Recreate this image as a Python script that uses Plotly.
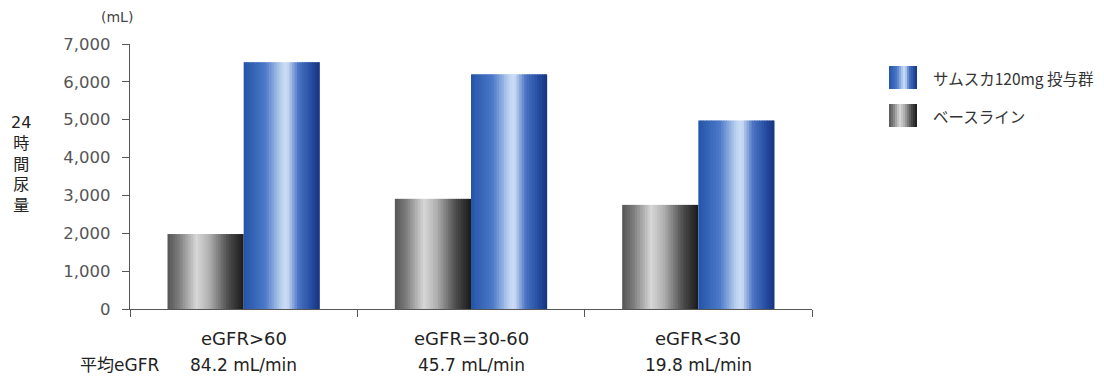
import plotly.graph_objects as go

# ---- data -------------------------------------------------------------
categories = ["eGFR>60", "eGFR=30-60", "eGFR<30"]
mean_egfr = ["84.2 mL/min", "45.7 mL/min", "19.8 mL/min"]
baseline = [1980, 2910, 2750]          # ベースライン
samsca_120 = [6520, 6200, 4980]        # サムスカ120mg 投与群
series_names = ["ベースライン", "サムスカ120mg 投与群"]
y_ticks = [0, 1000, 2000, 3000, 4000, 5000, 6000, 7000]

# ---- styling ----------------------------------------------------------
LATIN = "DejaVu Sans, Noto Sans CJK JP, sans-serif"
CJK = "Noto Sans CJK JP, sans-serif"
TEXT = "#333333"
AXIS = "#555555"

# horizontal colour profiles used to give the bars a cylinder-like shading
GRAY_STOPS = [(0.0, (85, 85, 85)), (0.15, (125, 125, 125)), (0.38, (215, 215, 215)),
              (0.55, (175, 175, 175)), (0.8, (75, 75, 75)), (1.0, (25, 25, 25))]
BLUE_STOPS = [(0.0, (36, 84, 168)), (0.28, (75, 120, 200)), (0.5, (190, 212, 240)),
              (0.57, (205, 222, 245)), (0.72, (75, 115, 195)), (0.88, (38, 78, 162)),
              (1.0, (22, 50, 125))]


def shade(stops, t):
    for (p0, c0), (p1, c1) in zip(stops, stops[1:]):
        if p0 <= t <= p1:
            f = (t - p0) / (p1 - p0) if p1 > p0 else 0
            c = [round(a + (b - a) * f) for a, b in zip(c0, c1)]
            return f"rgb({c[0]},{c[1]},{c[2]})"
    c = stops[-1][1]
    return f"rgb({c[0]},{c[1]},{c[2]})"


N_STRIPS = 30
BAR_W = 0.335   # width of one bar in category units

fig = go.Figure()


def add_shaded_bar(values, stops, start, name):
    step = BAR_W / N_STRIPS
    for i in range(N_STRIPS):
        t = (i + 0.5) / N_STRIPS
        fig.add_trace(go.Bar(
            x=categories, y=values,
            width=step * 1.3 if i < N_STRIPS - 1 else step,
            offset=start + i * step,
            marker=dict(color=shade(stops, t), line=dict(width=0)),
            name=name, showlegend=False, hoverinfo="skip",
        ))


add_shaded_bar(baseline, GRAY_STOPS, -BAR_W, series_names[0])
add_shaded_bar(samsca_120, BLUE_STOPS, 0.0, series_names[1])

# ---- legend drawn as shaded swatches + labels -------------------------
shapes = []
annotations = []
legend_items = [(series_names[1], BLUE_STOPS, 243), (series_names[0], GRAY_STOPS, 205)]
SW_X0, SW_W, SW_H, SW_N = 759, 28, 23, 14
for label, stops, top in legend_items:
    for i in range(SW_N):
        t = (i + 0.5) / SW_N
        shapes.append(dict(
            type="rect", xref="paper", yref="paper",
            xsizemode="pixel", ysizemode="pixel", xanchor=0, yanchor=0,
            x0=SW_X0 + i * SW_W / SW_N, x1=SW_X0 + (i + 1.3) * SW_W / SW_N if i < SW_N - 1 else SW_X0 + SW_W,
            y0=top - SW_H, y1=top,
            fillcolor=shade(stops, t), line=dict(width=0), layer="above",
        ))
    annotations.append(dict(
        text=label, xref="paper", yref="paper",
        x=(931 - 130) / 682, y=(top - SW_H / 2) / 265,
        xanchor="left", yanchor="middle", showarrow=False,
        font=dict(family=CJK, size=15.5, color=TEXT),
    ))

# ---- category labels (two lines) --------------------------------------
for cat, eg in zip(categories, mean_egfr):
    annotations.append(dict(
        text=cat, x=cat, xref="x", y=-29 / 265, yref="paper",
        xanchor="center", yanchor="middle", showarrow=False,
        font=dict(family=LATIN, size=18, color="#222222"),
    ))
    annotations.append(dict(
        text=eg, x=cat, xref="x", y=-56 / 265, yref="paper",
        xanchor="center", yanchor="middle", showarrow=False,
        font=dict(family=LATIN, size=17, color="#222222"),
    ))

annotations.append(dict(
    text="平均eGFR", xref="paper", yref="paper", x=(161 - 130) / 682, y=-56 / 265,
    xanchor="right", yanchor="middle", showarrow=False,
    font=dict(family=LATIN, size=17, color="#222222"),
))

# y-axis title, stacked vertically
annotations.append(dict(
    text="24<br>時<br>間<br>尿<br>量", xref="paper", yref="paper",
    x=(21 - 130) / 682, y=(309 - 164) / 265,
    xanchor="center", yanchor="middle", showarrow=False,
    font=dict(family=LATIN, size=16, color="#222222"),
))
# unit label
annotations.append(dict(
    text="(mL)", xref="paper", yref="paper",
    x=(135 - 130) / 682, y=(309 - 17) / 265,
    xanchor="right", yanchor="middle", showarrow=False,
    font=dict(family=LATIN, size=14, color="#444444"),
))

fig.update_layout(
    width=1104, height=378,
    margin=dict(l=130, r=292, t=44, b=69),
    paper_bgcolor="white", plot_bgcolor="white",
    barmode="overlay",
    showlegend=False,
    shapes=shapes,
    annotations=annotations,
    xaxis=dict(
        type="category", range=[-0.5, 2.5],
        showticklabels=False, tickson="boundaries",
        ticks="outside", ticklen=7, tickcolor=AXIS, tickwidth=1.2,
        showline=True, linecolor=AXIS, linewidth=1.2,
        showgrid=False, zeroline=False, fixedrange=True,
    ),
    yaxis=dict(
        range=[0, 7000], tickvals=y_ticks, tickformat=",",
        ticks="outside", ticklen=7, tickcolor=AXIS, tickwidth=1.2,
        ticklabelstandoff=8,
        tickfont=dict(family=LATIN, size=16.5, color="#555555"),
        showline=True, linecolor=AXIS, linewidth=1.2,
        showgrid=False, zeroline=False, fixedrange=True,
    ),
)

fig.write_html("out.html")
